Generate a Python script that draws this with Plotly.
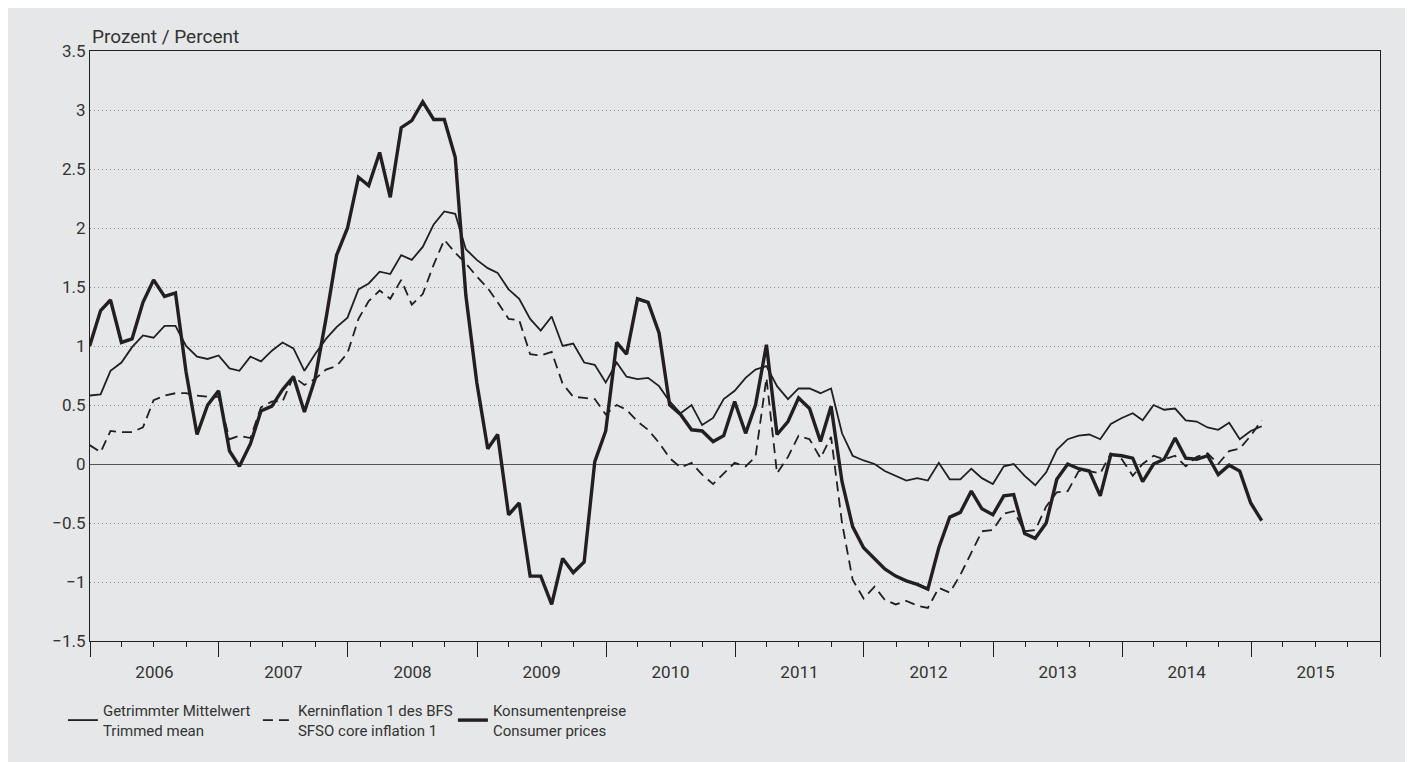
import pandas as pd
import plotly.graph_objects as go

# monthly year-on-year rates, Dec 2005 .. Jan 2015
months = pd.date_range("2005-12-31", periods=110, freq="ME")

trimmed_mean = [
    0.58, 0.59, 0.79, 0.86, 0.99, 1.09, 1.07, 1.17, 1.17, 1.00, 0.91, 0.89,
    0.92, 0.81, 0.79, 0.91, 0.87, 0.96, 1.03, 0.98, 0.79, 0.93, 1.06, 1.16,
    1.24, 1.48, 1.53, 1.63, 1.61, 1.77, 1.73, 1.84, 2.03, 2.14, 2.12, 1.82,
    1.73, 1.66, 1.62, 1.48, 1.40, 1.23, 1.13, 1.25, 1.00, 1.02, 0.86, 0.84,
    0.69, 0.86, 0.74, 0.72, 0.73, 0.66, 0.53, 0.43, 0.50, 0.33, 0.39, 0.55,
    0.62, 0.73, 0.80, 0.83, 0.66, 0.55, 0.64, 0.64, 0.60, 0.64, 0.26, 0.07,
    0.03, 0.00, -0.06, -0.10, -0.14, -0.12, -0.14, 0.01, -0.13, -0.13, -0.04, -0.12,
    -0.17, -0.02, 0.00, -0.10, -0.18, -0.07, 0.12, 0.21, 0.24, 0.25, 0.21, 0.34,
    0.39, 0.43, 0.37, 0.50, 0.46, 0.47, 0.37, 0.36, 0.31, 0.29, 0.35, 0.21,
    0.28, 0.32,
]
core_inflation = [
    0.16, 0.10, 0.28, 0.27, 0.27, 0.31, 0.54, 0.58, 0.60, 0.60, 0.58, 0.57,
    0.57, 0.21, 0.24, 0.22, 0.48, 0.53, 0.53, 0.74, 0.67, 0.72, 0.80, 0.83,
    0.94, 1.23, 1.38, 1.47, 1.40, 1.56, 1.35, 1.44, 1.69, 1.90, 1.79, 1.70,
    1.59, 1.49, 1.37, 1.23, 1.22, 0.93, 0.92, 0.95, 0.68, 0.57, 0.56, 0.55,
    0.42, 0.50, 0.46, 0.36, 0.29, 0.18, 0.05, -0.03, 0.01, -0.09, -0.17, -0.08,
    0.01, -0.02, 0.06, 0.73, -0.08, 0.06, 0.24, 0.21, 0.05, 0.23, -0.50, -0.98,
    -1.14, -1.04, -1.15, -1.19, -1.16, -1.20, -1.22, -1.05, -1.09, -0.94, -0.75, -0.57,
    -0.56, -0.42, -0.40, -0.57, -0.56, -0.36, -0.24, -0.23, -0.06, -0.06, -0.08, 0.09,
    0.04, -0.10, 0.00, 0.07, 0.04, 0.07, -0.02, 0.06, 0.09, 0.00, 0.11, 0.13,
    0.24, 0.37,
]
consumer_prices = [
    1.00, 1.30, 1.39, 1.03, 1.06, 1.37, 1.56, 1.42, 1.45, 0.78, 0.25, 0.50,
    0.62, 0.11, -0.02, 0.17, 0.45, 0.49, 0.63, 0.74, 0.44, 0.72, 1.23, 1.77,
    2.00, 2.43, 2.36, 2.64, 2.26, 2.85, 2.91, 3.07, 2.92, 2.92, 2.60, 1.43,
    0.69, 0.13, 0.25, -0.43, -0.33, -0.95, -0.95, -1.19, -0.80, -0.92, -0.83, 0.02,
    0.28, 1.03, 0.93, 1.40, 1.37, 1.11, 0.50, 0.42, 0.29, 0.28, 0.19, 0.24,
    0.53, 0.26, 0.50, 1.01, 0.25, 0.36, 0.56, 0.47, 0.19, 0.49, -0.15, -0.53,
    -0.71, -0.80, -0.89, -0.95, -0.99, -1.02, -1.06, -0.71, -0.45, -0.41, -0.23, -0.38,
    -0.43, -0.27, -0.26, -0.59, -0.63, -0.50, -0.13, 0.00, -0.04, -0.06, -0.27, 0.08,
    0.07, 0.05, -0.15, 0.00, 0.04, 0.22, 0.05, 0.04, 0.07, -0.09, -0.01, -0.06,
    -0.33, -0.48,
]

ink = "#231f20"
panel = "#e6e7e8"
font = "Roboto, sans-serif"

fig = go.Figure()
fig.add_trace(go.Scatter(
    x=months, y=trimmed_mean, mode="lines",
    name="Getrimmter Mittelwert<br>Trimmed mean",
    line=dict(color=ink, width=1.8),
))
fig.add_trace(go.Scatter(
    x=months, y=core_inflation, mode="lines",
    name="Kerninflation 1 des BFS<br>SFSO core inflation 1",
    line=dict(color=ink, width=1.8, dash="10px,6px"),
))
fig.add_trace(go.Scatter(
    x=months, y=consumer_prices, mode="lines",
    name="Konsumentenpreise<br>Consumer prices",
    line=dict(color=ink, width=3.4),
))

fig.add_annotation(text="Prozent / Percent", xref="paper", yref="paper",
                   x=0, y=1, xanchor="left", yanchor="bottom", yshift=1,
                   showarrow=False, font=dict(size=19, color="#333"))

fig.update_layout(
    width=1405, height=754,
    margin=dict(l=82, r=33, t=43, b=121, autoexpand=False),
    paper_bgcolor=panel, plot_bgcolor=panel,
    font=dict(family=font, size=17, color="#333"),
    showlegend=True,
    legend=dict(orientation="h", x=-0.021, y=-0.09, xanchor="left", yanchor="top",
                bgcolor="rgba(0,0,0,0)", font=dict(size=15, color="#333"),
                tracegroupgap=0, itemwidth=30,
                entrywidth=150, entrywidthmode="pixels"),
)
fig.update_xaxes(
    type="date", range=["2006-01-01", "2016-01-01"],
    tick0="2006-01-01", dtick="M12", tickformat="%Y", ticklabelmode="period",
    ticks="outside", ticklen=15, tickcolor=ink, tickwidth=1,
    minor=dict(dtick="M3", ticks="outside", ticklen=5, tickcolor=ink, showgrid=False),
    showline=True, linecolor=ink, linewidth=1.2, mirror=True,
    showgrid=False, zeroline=False,
)
fig.update_yaxes(
    range=[-1.5, 3.5], dtick=0.5, ticks="",
    showline=True, linecolor=ink, linewidth=1.2, mirror=True,
    showgrid=True, gridcolor="#8c8c8c", gridwidth=1, griddash="1px,3px",
    zeroline=True, zerolinecolor="#555", zerolinewidth=1.2,
)

fig.write_html("out.html")
